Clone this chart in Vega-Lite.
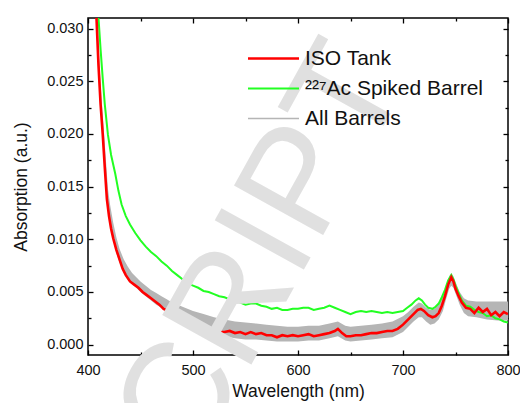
{
  "$schema": "https://vega.github.io/schema/vega-lite/v6.json",
  "autosize": "none",
  "width": 420,
  "height": 337,
  "padding": {"left": 88, "top": 18, "right": 12, "bottom": 48},
  "background": "white",
  "config": {
    "view": {"stroke": "#000", "strokeWidth": 1.5},
    "font": "Liberation Sans"
  },
  "datasets": {
    "band": [
      {"nm": 409, "lo": 0.0280, "hi": 0.0312},
      {"nm": 411, "lo": 0.0235, "hi": 0.0265},
      {"nm": 413, "lo": 0.0208, "hi": 0.0232},
      {"nm": 415, "lo": 0.0180, "hi": 0.0205},
      {"nm": 417, "lo": 0.0150, "hi": 0.0176},
      {"nm": 419, "lo": 0.0128, "hi": 0.0148},
      {"nm": 421, "lo": 0.0115, "hi": 0.0133},
      {"nm": 424, "lo": 0.0100, "hi": 0.0116},
      {"nm": 427, "lo": 0.0087, "hi": 0.0102},
      {"nm": 430, "lo": 0.0078, "hi": 0.0091},
      {"nm": 434, "lo": 0.0069, "hi": 0.0081},
      {"nm": 438, "lo": 0.0062, "hi": 0.0074},
      {"nm": 442, "lo": 0.0058, "hi": 0.0068},
      {"nm": 446, "lo": 0.0054, "hi": 0.0064},
      {"nm": 450, "lo": 0.0050, "hi": 0.0060},
      {"nm": 455, "lo": 0.0046, "hi": 0.0056},
      {"nm": 460, "lo": 0.0042, "hi": 0.0052},
      {"nm": 465, "lo": 0.0038, "hi": 0.0049},
      {"nm": 470, "lo": 0.0035, "hi": 0.0046},
      {"nm": 475, "lo": 0.0031, "hi": 0.0043},
      {"nm": 480, "lo": 0.0028, "hi": 0.0040},
      {"nm": 490, "lo": 0.0024, "hi": 0.0036},
      {"nm": 500, "lo": 0.0019, "hi": 0.0032},
      {"nm": 510, "lo": 0.0016, "hi": 0.0029},
      {"nm": 520, "lo": 0.0012, "hi": 0.0026},
      {"nm": 530, "lo": 0.0008, "hi": 0.0024},
      {"nm": 540, "lo": 0.0006, "hi": 0.0022},
      {"nm": 550, "lo": 0.0005, "hi": 0.0021},
      {"nm": 560, "lo": 0.0005, "hi": 0.0020},
      {"nm": 570, "lo": 0.0004, "hi": 0.0019},
      {"nm": 580, "lo": 0.0003, "hi": 0.0018},
      {"nm": 590, "lo": 0.0003, "hi": 0.0017},
      {"nm": 600, "lo": 0.0003, "hi": 0.0017},
      {"nm": 610, "lo": 0.0004, "hi": 0.0018},
      {"nm": 620, "lo": 0.0004, "hi": 0.0018},
      {"nm": 630, "lo": 0.0006, "hi": 0.0020},
      {"nm": 638, "lo": 0.0008, "hi": 0.0022},
      {"nm": 645, "lo": 0.0004, "hi": 0.0018},
      {"nm": 650, "lo": 0.0003, "hi": 0.0017},
      {"nm": 660, "lo": 0.0004, "hi": 0.0018},
      {"nm": 670, "lo": 0.0005, "hi": 0.0019},
      {"nm": 680, "lo": 0.0006, "hi": 0.0020},
      {"nm": 690, "lo": 0.0007, "hi": 0.0022},
      {"nm": 700, "lo": 0.0012, "hi": 0.0027},
      {"nm": 705, "lo": 0.0017, "hi": 0.0031},
      {"nm": 710, "lo": 0.0022, "hi": 0.0036},
      {"nm": 715, "lo": 0.0026, "hi": 0.0040},
      {"nm": 718, "lo": 0.0026, "hi": 0.0039},
      {"nm": 722, "lo": 0.0022, "hi": 0.0035},
      {"nm": 726, "lo": 0.0019, "hi": 0.0033},
      {"nm": 730, "lo": 0.0020, "hi": 0.0034},
      {"nm": 734, "lo": 0.0024, "hi": 0.0038},
      {"nm": 738, "lo": 0.0032, "hi": 0.0047},
      {"nm": 741, "lo": 0.0043, "hi": 0.0056},
      {"nm": 744, "lo": 0.0053, "hi": 0.0065},
      {"nm": 746, "lo": 0.0056, "hi": 0.0068},
      {"nm": 748, "lo": 0.0054, "hi": 0.0065},
      {"nm": 751, "lo": 0.0046, "hi": 0.0057},
      {"nm": 754, "lo": 0.0038, "hi": 0.0050},
      {"nm": 758, "lo": 0.0030, "hi": 0.0044},
      {"nm": 762, "lo": 0.0027, "hi": 0.0042},
      {"nm": 770, "lo": 0.0026, "hi": 0.0041},
      {"nm": 780, "lo": 0.0024, "hi": 0.0041},
      {"nm": 790, "lo": 0.0023, "hi": 0.0041},
      {"nm": 800, "lo": 0.0023, "hi": 0.0041}
    ],
    "ac": [
      {"nm": 410, "a": 0.0310}, {"nm": 412, "a": 0.0280}, {"nm": 414, "a": 0.0253}, {"nm": 416, "a": 0.0228},
      {"nm": 419, "a": 0.0199}, {"nm": 422, "a": 0.0180}, {"nm": 426, "a": 0.0162}, {"nm": 429, "a": 0.0146},
      {"nm": 432, "a": 0.0133}, {"nm": 436, "a": 0.0122}, {"nm": 440, "a": 0.0114}, {"nm": 445, "a": 0.0106},
      {"nm": 450, "a": 0.0099}, {"nm": 455, "a": 0.0093}, {"nm": 460, "a": 0.0088}, {"nm": 465, "a": 0.0084},
      {"nm": 470, "a": 0.0079}, {"nm": 475, "a": 0.0075}, {"nm": 480, "a": 0.0070}, {"nm": 485, "a": 0.0066},
      {"nm": 490, "a": 0.0062}, {"nm": 495, "a": 0.0058}, {"nm": 500, "a": 0.0056}, {"nm": 505, "a": 0.0054},
      {"nm": 510, "a": 0.0051}, {"nm": 515, "a": 0.0050}, {"nm": 520, "a": 0.0048}, {"nm": 525, "a": 0.0046},
      {"nm": 530, "a": 0.0045}, {"nm": 535, "a": 0.0043}, {"nm": 540, "a": 0.0042}, {"nm": 545, "a": 0.0040},
      {"nm": 550, "a": 0.0038}, {"nm": 555, "a": 0.0039}, {"nm": 560, "a": 0.0039}, {"nm": 565, "a": 0.0037},
      {"nm": 570, "a": 0.0036}, {"nm": 575, "a": 0.0034}, {"nm": 580, "a": 0.0035}, {"nm": 585, "a": 0.0033},
      {"nm": 590, "a": 0.0033}, {"nm": 595, "a": 0.0034}, {"nm": 600, "a": 0.0034}, {"nm": 605, "a": 0.0035},
      {"nm": 610, "a": 0.0035}, {"nm": 615, "a": 0.0033}, {"nm": 620, "a": 0.0034}, {"nm": 625, "a": 0.0035},
      {"nm": 630, "a": 0.0037}, {"nm": 635, "a": 0.0035}, {"nm": 640, "a": 0.0033}, {"nm": 645, "a": 0.0031},
      {"nm": 650, "a": 0.0029}, {"nm": 655, "a": 0.0031}, {"nm": 660, "a": 0.0032}, {"nm": 665, "a": 0.0031},
      {"nm": 670, "a": 0.0032}, {"nm": 675, "a": 0.0031}, {"nm": 680, "a": 0.0030}, {"nm": 685, "a": 0.0031},
      {"nm": 690, "a": 0.0030}, {"nm": 695, "a": 0.0031}, {"nm": 700, "a": 0.0032}, {"nm": 704, "a": 0.0035},
      {"nm": 708, "a": 0.0038}, {"nm": 712, "a": 0.0042}, {"nm": 715, "a": 0.0044}, {"nm": 718, "a": 0.0042},
      {"nm": 721, "a": 0.0038}, {"nm": 724, "a": 0.0035}, {"nm": 728, "a": 0.0034}, {"nm": 731, "a": 0.0036},
      {"nm": 734, "a": 0.0039}, {"nm": 737, "a": 0.0045}, {"nm": 740, "a": 0.0052}, {"nm": 743, "a": 0.0061},
      {"nm": 746, "a": 0.0066}, {"nm": 748, "a": 0.0062}, {"nm": 750, "a": 0.0056}, {"nm": 753, "a": 0.0049},
      {"nm": 756, "a": 0.0042}, {"nm": 760, "a": 0.0037}, {"nm": 764, "a": 0.0036}, {"nm": 768, "a": 0.0033},
      {"nm": 772, "a": 0.0031}, {"nm": 776, "a": 0.0030}, {"nm": 780, "a": 0.0027}, {"nm": 784, "a": 0.0028},
      {"nm": 788, "a": 0.0025}, {"nm": 792, "a": 0.0024}, {"nm": 796, "a": 0.0022}, {"nm": 800, "a": 0.0021}
    ],
    "iso": [
      {"nm": 408, "a": 0.0312}, {"nm": 410, "a": 0.0265}, {"nm": 412, "a": 0.0228}, {"nm": 414, "a": 0.0200},
      {"nm": 416, "a": 0.0168}, {"nm": 418, "a": 0.0138}, {"nm": 420, "a": 0.0122}, {"nm": 422, "a": 0.0110},
      {"nm": 424, "a": 0.0101}, {"nm": 427, "a": 0.0090}, {"nm": 430, "a": 0.0081}, {"nm": 433, "a": 0.0072},
      {"nm": 436, "a": 0.0066}, {"nm": 440, "a": 0.0060}, {"nm": 444, "a": 0.0057}, {"nm": 448, "a": 0.0054},
      {"nm": 452, "a": 0.0050}, {"nm": 456, "a": 0.0047}, {"nm": 460, "a": 0.0044}, {"nm": 464, "a": 0.0041},
      {"nm": 468, "a": 0.0038}, {"nm": 472, "a": 0.0034}, {"nm": 476, "a": 0.0032}, {"nm": 480, "a": 0.0030},
      {"nm": 485, "a": 0.0027}, {"nm": 490, "a": 0.0025}, {"nm": 495, "a": 0.0023}, {"nm": 500, "a": 0.0021},
      {"nm": 505, "a": 0.0020}, {"nm": 510, "a": 0.0018}, {"nm": 515, "a": 0.0016}, {"nm": 520, "a": 0.0014},
      {"nm": 525, "a": 0.0012}, {"nm": 530, "a": 0.0012}, {"nm": 535, "a": 0.0013}, {"nm": 540, "a": 0.0011},
      {"nm": 545, "a": 0.0012}, {"nm": 550, "a": 0.0010}, {"nm": 555, "a": 0.0012}, {"nm": 560, "a": 0.0010},
      {"nm": 565, "a": 0.0011}, {"nm": 570, "a": 0.0009}, {"nm": 575, "a": 0.0009}, {"nm": 580, "a": 0.0007},
      {"nm": 585, "a": 0.0009}, {"nm": 590, "a": 0.0008}, {"nm": 595, "a": 0.0009}, {"nm": 600, "a": 0.0008},
      {"nm": 605, "a": 0.0009}, {"nm": 610, "a": 0.0010}, {"nm": 615, "a": 0.0008}, {"nm": 620, "a": 0.0009},
      {"nm": 625, "a": 0.0010}, {"nm": 630, "a": 0.0011}, {"nm": 635, "a": 0.0013}, {"nm": 638, "a": 0.0015},
      {"nm": 642, "a": 0.0011}, {"nm": 646, "a": 0.0008}, {"nm": 650, "a": 0.0008}, {"nm": 655, "a": 0.0009},
      {"nm": 660, "a": 0.0009}, {"nm": 665, "a": 0.0010}, {"nm": 670, "a": 0.0011}, {"nm": 675, "a": 0.0011},
      {"nm": 680, "a": 0.0012}, {"nm": 685, "a": 0.0013}, {"nm": 690, "a": 0.0013}, {"nm": 695, "a": 0.0015},
      {"nm": 700, "a": 0.0019}, {"nm": 705, "a": 0.0024}, {"nm": 710, "a": 0.0029}, {"nm": 714, "a": 0.0033},
      {"nm": 717, "a": 0.0034}, {"nm": 720, "a": 0.0032}, {"nm": 724, "a": 0.0028}, {"nm": 728, "a": 0.0026},
      {"nm": 731, "a": 0.0027}, {"nm": 734, "a": 0.0030}, {"nm": 737, "a": 0.0037}, {"nm": 740, "a": 0.0046},
      {"nm": 743, "a": 0.0057}, {"nm": 746, "a": 0.0064}, {"nm": 748, "a": 0.0060}, {"nm": 750, "a": 0.0053},
      {"nm": 753, "a": 0.0046}, {"nm": 756, "a": 0.0040}, {"nm": 760, "a": 0.0035}, {"nm": 764, "a": 0.0034},
      {"nm": 768, "a": 0.0030}, {"nm": 772, "a": 0.0035}, {"nm": 776, "a": 0.0031}, {"nm": 780, "a": 0.0034},
      {"nm": 784, "a": 0.0028}, {"nm": 788, "a": 0.0031}, {"nm": 792, "a": 0.0027}, {"nm": 796, "a": 0.0031},
      {"nm": 800, "a": 0.0029}
    ],
    "mark": [
      {"nm": 705.7, "a": 0.0251, "t": "MANUSCRIPT"}
    ]
  },
  "layer": [
    {
      "data": {"name": "band"},
      "mark": {"type": "area", "color": "#b5b5b5", "clip": true},
      "encoding": {
        "x": {
          "field": "nm", "type": "quantitative",
          "scale": {"domain": [400, 800], "nice": false, "zero": false},
          "axis": {
            "orient": "bottom", "title": "Wavelength (nm)",
            "values": [400, 450, 500, 550, 600, 650, 700, 750, 800],
            "labelExpr": "datum.value % 100 === 0 ? datum.label : ''",
            "tickSize": {"condition": {"test": "datum.value % 100 === 0", "value": -5}, "value": -3},
            "tickColor": "#000", "tickWidth": 1.3, "domain": false, "grid": false,
            "labelFontSize": 14.5, "labelColor": "#111", "labelPadding": 13, "labelFlush": false,
            "titleFontSize": 17.5, "titleFontWeight": "normal", "titleColor": "#111", "titlePadding": 6
          }
        },
        "y": {
          "field": "lo", "type": "quantitative",
          "scale": {"domain": [-0.00098, 0.031], "nice": false, "zero": false},
          "axis": {
            "orient": "left", "title": "Absorption (a.u.)",
            "values": [0, 0.0025, 0.005, 0.0075, 0.01, 0.0125, 0.015, 0.0175, 0.02, 0.0225, 0.025, 0.0275, 0.03],
            "labelExpr": "round(datum.value * 10000) % 50 === 0 ? format(datum.value, '.3f') : ''",
            "tickSize": {"condition": {"test": "round(datum.value * 10000) % 50 === 0", "value": -5}, "value": -3},
            "tickColor": "#000", "tickWidth": 1.3, "domain": false, "grid": false,
            "labelFontSize": 14.5, "labelColor": "#111", "labelPadding": 10, "labelFlush": false,
            "titleFontSize": 17.5, "titleFontWeight": "normal", "titleColor": "#111", "titlePadding": 16
          }
        },
        "y2": {"field": "hi"}
      }
    },
    {
      "data": {"name": "ac"},
      "mark": {"type": "line", "clip": true},
      "encoding": {
        "x": {
          "field": "nm", "type": "quantitative",
          "axis": {
            "orient": "top", "title": null, "labels": false,
            "values": [400, 450, 500, 550, 600, 650, 700, 750, 800],
            "tickSize": {"condition": {"test": "datum.value % 100 === 0", "value": -5}, "value": -3},
            "tickColor": "#000", "tickWidth": 1.3, "domain": false, "grid": false
          }
        },
        "y": {
          "field": "a", "type": "quantitative",
          "axis": {
            "orient": "right", "title": null, "labels": false,
            "values": [0, 0.0025, 0.005, 0.0075, 0.01, 0.0125, 0.015, 0.0175, 0.02, 0.0225, 0.025, 0.0275, 0.03],
            "tickSize": {"condition": {"test": "round(datum.value * 10000) % 50 === 0", "value": -5}, "value": -3},
            "tickColor": "#000", "tickWidth": 1.3, "domain": false, "grid": false
          }
        },
        "color": {
          "datum": "²²⁷Ac Spiked Barrel",
          "scale": {"domain": ["ISO Tank", "²²⁷Ac Spiked Barrel", "All Barrels"], "range": ["#ff0000", "#22ff22", "#b5b5b5"]},
          "legend": {
            "orient": "none", "legendX": 175, "legendY": 30, "title": null,
            "symbolType": "M-3,0H3", "symbolSize": 289, "labelFontSize": 21, "labelColor": "#111",
            "labelOffset": 21, "rowPadding": 8, "padding": 0, "labelLimit": 300
          }
        },
        "strokeWidth": {
          "datum": "²²⁷Ac Spiked Barrel",
          "scale": {"domain": ["ISO Tank", "²²⁷Ac Spiked Barrel", "All Barrels"], "range": [2.6, 1.4, 3.2]}
        }
      }
    },
    {
      "data": {"name": "iso"},
      "mark": {"type": "line", "clip": true},
      "encoding": {
        "x": {"field": "nm", "type": "quantitative", "axis": null},
        "y": {"field": "a", "type": "quantitative", "axis": null},
        "color": {"datum": "ISO Tank"},
        "strokeWidth": {"datum": "ISO Tank"}
      }
    },
    {
      "data": {"name": "mark"},
      "mark": {"type": "text", "fontSize": 148, "font": "Liberation Sans", "color": "#e0e0e0", "angle": -61, "align": "right", "baseline": "alphabetic"},
      "encoding": {
        "x": {"field": "nm", "type": "quantitative", "axis": null},
        "y": {"field": "a", "type": "quantitative", "axis": null},
        "text": {"field": "t"}
      }
    }
  ],
  "resolve": {"axis": {"x": "independent", "y": "independent"}}
}
